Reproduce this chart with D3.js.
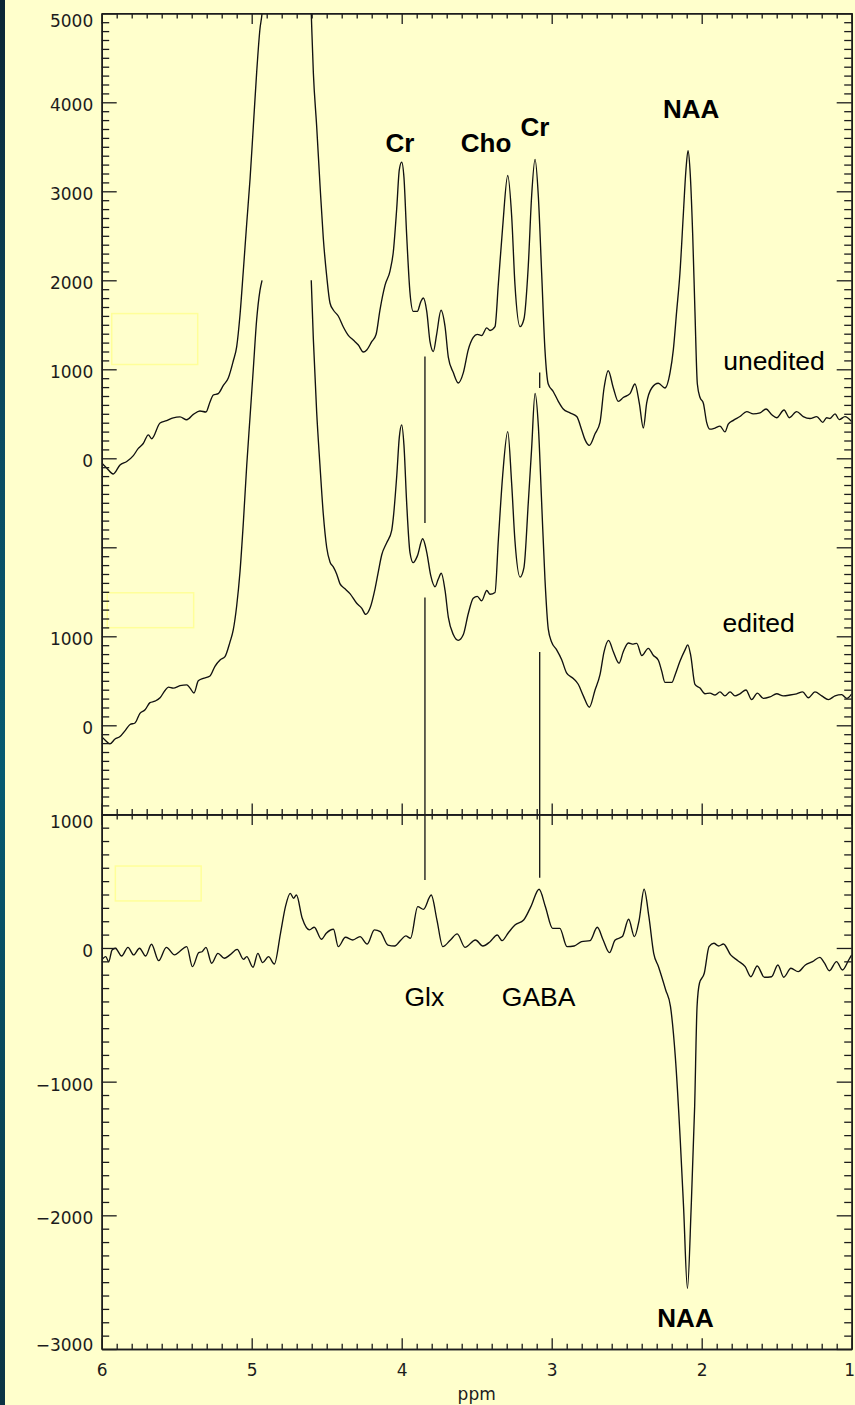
<!DOCTYPE html>
<html>
<head>
<meta charset="utf-8">
<script src="https://cdn.jsdelivr.net/npm/d3@7"></script>
<style>
  html, body { margin: 0; padding: 0; background: #ffffcc; }
  svg { display: block; }
</style>
</head>
<body>
<svg id="chart" width="855" height="1405"></svg>
<script>
// ---- Spectra (chemical shift in ppm, signal in arbitrary units) ----

// Unedited spectrum (water peak runs off the top of the panel)
const uneditedPpm = [
  6.000,5.967,5.923,5.878,5.833,5.789,5.756,5.723,5.689,5.667,
  5.611,5.567,5.523,5.478,5.433,5.389,5.345,5.305,5.278,5.256,
  5.223,5.189,5.156,5.123,5.100,5.078,5.056,5.033,5.011,4.989,
  4.967,4.945,4.931,4.900,4.800,4.700,4.620,
  4.603,4.589,4.567,4.545,4.523,4.500,4.478,4.456,4.423,4.389,
  4.356,4.323,4.289,4.256,4.233,4.200,4.171,4.145,4.111,4.078,
  4.056,4.033,4.016,4.000,3.985,3.967,3.945,3.923,3.896,3.873,
  3.856,3.833,3.811,3.789,3.767,3.738,3.711,3.689,3.656,3.623,
  3.589,3.556,3.523,3.496,3.467,3.433,3.411,3.378,3.356,3.327,
  3.293,3.267,3.245,3.211,3.185,3.156,3.134,3.111,3.089,3.067,
  3.045,3.023,2.989,2.956,2.923,2.878,2.833,2.800,2.778,2.749,
  2.711,2.678,2.651,2.623,2.589,2.556,2.523,2.478,2.445,2.416,
  2.389,2.367,2.333,2.289,2.245,2.211,2.189,2.167,2.145,2.123,
  2.105,2.091,2.078,2.060,2.045,2.029,2.011,1.989,1.967,1.945,
  1.911,1.878,1.845,1.823,1.789,1.745,1.700,1.656,1.611,1.571,
  1.533,1.500,1.451,1.416,1.367,1.323,1.278,1.233,1.193,1.167,
  1.145,1.111,1.083,1.045,1.000
];
const uneditedSignal = [
  -53,-109,-176,-75,-36,30,111,166,264,220,
  397,422,455,465,433,493,531,520,633,711,
  727,819,902,1093,1255,1610,2104,2644,3138,3734,
  4333,4824,5000,6000,12000,12000,5800,
  5000,4333,3734,3082,2481,2048,1745,1666,1599,1475,
  1381,1329,1273,1194,1217,1310,1391,1666,1945,2104,
  2318,2812,3240,3328,3156,2511,1866,1651,1651,1758,
  1801,1651,1307,1200,1393,1664,1479,1135,963,846,
  963,1221,1358,1393,1380,1466,1436,1479,1952,2597,
  3178,2726,1952,1479,1565,2167,2942,3358,2942,2082,
  1221,835,748,640,554,511,469,318,210,146,
  275,404,790,984,790,640,683,727,835,619,
  340,619,790,843,790,963,1221,1651,2082,2726,
  3242,3457,3242,2511,1651,835,683,619,404,327,
  340,361,297,383,426,469,525,499,511,554,
  490,456,543,456,525,469,447,469,404,456,
  447,499,434,469,412
];

// Edited spectrum (water region blanked), drawn below the unedited one
const editedPpm = [
  6.000,5.978,5.945,5.911,5.878,5.845,5.811,5.778,5.745,5.711,
  5.678,5.645,5.611,5.578,5.555,5.523,5.478,5.433,5.411,5.385,
  5.356,5.323,5.278,5.245,5.211,5.178,5.145,5.123,5.100,5.078,
  5.056,5.033,5.011,4.989,4.967,4.945,4.931,
  4.770,
  4.603,4.589,4.567,4.545,4.523,4.500,4.478,4.456,4.433,4.411,
  4.378,4.345,4.300,4.267,4.240,4.211,4.178,4.156,4.133,4.100,
  4.067,4.056,4.033,4.016,4.000,3.985,3.967,3.945,3.923,3.896,
  3.860,3.833,3.807,3.778,3.756,3.736,3.711,3.689,3.656,3.623,
  3.589,3.556,3.523,3.496,3.467,3.433,3.411,3.378,3.356,3.327,
  3.293,3.267,3.245,3.211,3.185,3.156,3.134,3.111,3.089,3.067,
  3.045,3.023,3.000,2.967,2.934,2.901,2.856,2.823,2.789,2.749,
  2.711,2.678,2.651,2.621,2.589,2.551,2.523,2.489,2.456,2.433,
  2.399,2.356,2.323,2.289,2.267,2.245,2.199,2.177,2.145,2.111,
  2.093,2.073,2.045,2.011,1.978,1.945,1.911,1.878,1.845,1.811,
  1.778,1.745,1.705,1.667,1.629,1.589,1.545,1.500,1.456,1.411,
  1.367,1.327,1.289,1.245,1.200,1.156,1.111,1.067,1.033,1.000
];
const editedSignal = [
  -127,-165,-208,-154,-127,-62,9,26,135,174,
  254,271,309,391,429,418,445,455,418,363,
  500,527,554,663,734,772,935,1071,1343,1725,
  2270,2924,3467,4012,4556,4884,5000,
  null,
  5000,4339,3522,2924,2379,1998,1834,1780,1698,1589,
  1534,1480,1371,1317,1246,1317,1534,1725,1916,2051,
  2188,2331,2804,3235,3376,3148,2503,1944,1828,1901,
  2096,1944,1687,1557,1644,1708,1515,1213,1020,955,
  1020,1256,1428,1449,1399,1515,1472,1493,2073,2804,
  3299,2718,2073,1665,1772,2503,3106,3729,3363,2503,
  1644,1084,934,848,740,590,526,461,331,203,
  397,569,826,955,826,698,826,925,912,921,
  783,865,787,731,611,482,482,569,719,848,
  903,783,461,418,354,362,340,375,331,375,
  331,354,397,289,362,302,319,354,331,340,
  354,375,310,375,331,289,331,345,302,354
];
const editedOffset = -3000;   // vertical shift of the edited trace

// Difference spectrum (edited minus unedited)
const differencePpm = [
  6.000,5.973,5.953,5.931,5.909,5.867,5.825,5.787,5.748,5.707,
  5.668,5.620,5.569,5.514,5.482,5.433,5.395,5.353,5.331,5.305,
  5.267,5.225,5.183,5.145,5.097,5.055,5.033,4.991,4.959,4.927,
  4.888,4.849,4.808,4.775,4.743,4.721,4.702,4.663,4.615,4.583,
  4.535,4.503,4.455,4.423,4.375,4.326,4.278,4.230,4.182,4.143,
  4.092,4.047,4.005,3.973,3.941,3.893,3.855,3.803,3.765,3.726,
  3.675,3.630,3.578,3.508,3.459,3.411,3.363,3.331,3.289,3.245,
  3.187,3.139,3.084,3.042,2.994,2.946,2.898,2.850,2.801,2.744,
  2.696,2.657,2.615,2.577,2.529,2.487,2.449,2.417,2.384,2.352,
  2.320,2.288,2.240,2.208,2.176,2.143,2.121,2.095,2.070,2.047,
  2.031,2.015,1.983,1.951,1.919,1.887,1.855,1.807,1.759,1.710,
  1.672,1.630,1.582,1.534,1.492,1.453,1.405,1.357,1.309,1.261,
  1.213,1.181,1.149,1.101,1.062,1.020,1.000
];
const differenceSignal = [
  -90,-65,-102,-15,-2,-60,5,-52,-2,-60,
  28,-95,5,-52,-28,10,-140,-35,-28,5,
  -114,-40,-77,-52,-10,-85,-65,-144,-40,-110,
  -65,-120,110,309,409,372,396,222,135,155,
  65,110,140,10,80,60,85,30,135,122,
  22,15,60,90,73,309,289,396,209,10,
  60,105,5,60,15,47,97,55,114,172,
  209,309,439,309,147,147,10,15,47,55,
  155,60,-35,60,85,215,85,209,439,234,
  -40,-140,-314,-439,-813,-1436,-1935,-2546,-1935,-1187,
  -439,-264,-189,10,35,15,30,-52,-95,-140,
  -215,-135,-219,-215,-127,-219,-152,-177,-127,-102,
  -70,-114,-170,-102,-165,-90,-52
];

// ---- Axis ticks and labels ----
const ppmTicks = [6, 5, 4, 3, 2, 1];
const topMajorTicks = [5000, 4000, 3000, 2000, 1000, 0, -1000, -2000, -3000, -4000];
const topTickLabels = { "5000": "5000", "4000": "4000", "3000": "3000", "2000": "2000",
                        "1000": "1000", "0": "0", "-2000": "1000", "-3000": "0" };
const bottomMajorTicks = [1000, 0, -1000, -2000, -3000];
const bottomTickLabels = { "1000": "1000", "0": "0", "-1000": "\u22121000",
                           "-2000": "\u22122000", "-3000": "\u22123000" };

// ---- Annotations: label, position (ppm, signal), panel ----
const peakLabels = [
  { text: "Cr",   ppm: 4.011, v: 3436, bold: true,  panel: "top" },
  { text: "Cho",  ppm: 3.438, v: 3436, bold: true,  panel: "top" },
  { text: "Cr",   ppm: 3.111, v: 3621, bold: true,  panel: "top" },
  { text: "NAA",  ppm: 2.071, v: 3824, bold: true,  panel: "top" },
  { text: "unedited", ppm: 1.518, v: 992,  bold: false, panel: "top" },
  { text: "edited",   ppm: 1.620, v: -1948, bold: false, panel: "top" },
  { text: "Glx",  ppm: 3.849, v: -432,  bold: false, panel: "bottom" },
  { text: "GABA", ppm: 3.087, v: -432,  bold: false, panel: "bottom" },
  { text: "NAA",  ppm: 2.108, v: -2835, bold: true,  panel: "bottom" }
];
// marker lines: [ppm, from (panel, value), to (panel, value)]
const markerLines = [
  { ppm: 3.845, from: ["top", 1144],  to: ["top", -727] },
  { ppm: 3.845, from: ["top", -1565], to: ["bottom", 509] },
  { ppm: 3.080, from: ["top", 963],   to: ["top", 790] },
  { ppm: 3.080, from: ["top", -2175], to: ["bottom", 526] }
];
// empty legend frames
const legendFrames = [
  { panel: "top",    ppm0: 5.933, ppm1: 5.360, v0: 1626,  v1: 1054 },
  { panel: "top",    ppm0: 5.963, ppm1: 5.387, v0: -1511, v1: -1903 },
  { panel: "bottom", ppm0: 5.909, ppm1: 5.337, v0: 613,   v1: 352 }
];

// ---- Layout ----
const W = 855, H = 1405;
const plotL = 101.7, plotR = 851.7, topT = 13.3, midY = 814.3, botB = 1349;
const ink = "#1c1c1c";

const svg = d3.select("#chart");
const defs = svg.append("defs");

svg.append("rect").attr("width", W).attr("height", H).attr("fill", "#ffffcc");

// dark edge strip on the left
const edge = defs.append("linearGradient").attr("id", "edgeGrad")
  .attr("x1", 0).attr("y1", 0).attr("x2", 0).attr("y2", 1);
[["0", "#0b2535"], ["0.3", "#0a4a60"], ["0.55", "#065a70"], ["1", "#0b3343"]]
  .forEach(([o, c]) => edge.append("stop").attr("offset", o).attr("stop-color", c));
svg.append("rect").attr("x", 0).attr("y", 0).attr("width", 5).attr("height", H)
  .attr("fill", "url(#edgeGrad)");

const x = d3.scaleLinear().domain([6, 1]).range([plotL, plotR]);
const yTop = d3.scaleLinear().domain([-4000, 5000]).range([midY, topT]);
const yBot = d3.scaleLinear().domain([-3000, 1000]).range([botB, midY]);
const yOf = p => (p === "top" ? yTop : yBot);

defs.append("clipPath").attr("id", "clipTop").append("rect")
  .attr("x", plotL).attr("y", topT).attr("width", plotR - plotL).attr("height", midY - topT);
defs.append("clipPath").attr("id", "clipBot").append("rect")
  .attr("x", plotL).attr("y", midY).attr("width", plotR - plotL).attr("height", botB - midY);

// legend frames
svg.append("g").selectAll("rect").data(legendFrames).join("rect")
  .attr("x", d => x(d.ppm0)).attr("y", d => yOf(d.panel)(d.v0))
  .attr("width", d => x(d.ppm1) - x(d.ppm0))
  .attr("height", d => yOf(d.panel)(d.v1) - yOf(d.panel)(d.v0))
  .attr("fill", "none").attr("stroke", "#ffff99").attr("stroke-width", 1.5);

// ---- Traces ----
const toPoints = (ppm, sig, off = 0) =>
  ppm.map((p, i) => ({ ppm: p, v: sig[i] == null ? null : sig[i] + off }));

const lineFor = y => d3.line()
  .defined(d => d.v != null)
  .x(d => x(d.ppm)).y(d => y(d.v))
  .curve(d3.curveMonotoneX);

const traces = svg.append("g").attr("fill", "none").attr("stroke", "#111")
  .attr("stroke-width", 1.35).attr("stroke-linejoin", "round");

traces.append("path").attr("clip-path", "url(#clipTop)")
  .attr("d", lineFor(yTop)(toPoints(uneditedPpm, uneditedSignal)));
traces.append("path").attr("clip-path", "url(#clipTop)")
  .attr("d", lineFor(yTop)(toPoints(editedPpm, editedSignal, editedOffset)));
traces.append("path").attr("clip-path", "url(#clipBot)")
  .attr("d", lineFor(yBot)(toPoints(differencePpm, differenceSignal)));

// marker lines
svg.append("g").selectAll("line").data(markerLines).join("line")
  .attr("x1", d => x(d.ppm)).attr("x2", d => x(d.ppm))
  .attr("y1", d => yOf(d.from[0])(d.from[1]))
  .attr("y2", d => yOf(d.to[0])(d.to[1]))
  .attr("stroke", "#111").attr("stroke-width", 1.3);

// ---- Axes ----
const minorY = (lo, hi) =>
  d3.range(lo, hi + 1, 100).filter(v => v % 1000 !== 0);
const minorX = d3.range(10, 61).map(i => i / 10).filter(v => !Number.isInteger(v));

function styleAxis(g) {
  g.select(".domain").attr("stroke", ink).attr("stroke-width", 1.5);
  g.selectAll(".tick line").attr("stroke", ink).attr("stroke-width", 1.3);
  g.selectAll("text").attr("fill", ink)
    .attr("font-family", "'DejaVu Sans', sans-serif").attr("font-size", 17);
}

function drawYAxes(y, major, lo, hi, labels, labelShift) {
  const left = svg.append("g").attr("transform", `translate(${plotL},0)`)
    .call(d3.axisLeft(y).tickValues(major).tickSize(-15).tickSizeOuter(0).tickPadding(8.5)
      .tickFormat(v => labels[String(v)] || ""));
  left.call(styleAxis);
  left.selectAll(".tick text").attr("dy", v => (labelShift[String(v)] ?? 3) + 5.4);
  svg.append("g").attr("transform", `translate(${plotL},0)`)
    .call(d3.axisLeft(y).tickValues(minorY(lo, hi)).tickSize(-7.5).tickSizeOuter(0).tickFormat(""))
    .call(styleAxis);
  svg.append("g").attr("transform", `translate(${plotR},0)`)
    .call(d3.axisRight(y).tickValues(major).tickSize(-15).tickSizeOuter(0).tickFormat(""))
    .call(styleAxis);
  svg.append("g").attr("transform", `translate(${plotR},0)`)
    .call(d3.axisRight(y).tickValues(minorY(lo, hi)).tickSize(-7.5).tickSizeOuter(0).tickFormat(""))
    .call(styleAxis);
}

function drawXAxis(ypos, orient, withLabels) {
  const major = (orient === "top" ? d3.axisTop(x) : d3.axisBottom(x))
    .tickValues(ppmTicks).tickSize(-10.7).tickSizeOuter(0).tickPadding(15)
    .tickFormat(withLabels ? d3.format("d") : "");
  const minor = (orient === "top" ? d3.axisTop(x) : d3.axisBottom(x))
    .tickValues(minorX).tickSize(-5.3).tickSizeOuter(0).tickFormat("");
  const g = svg.append("g").attr("transform", `translate(0,${ypos})`).call(major).call(styleAxis);
  svg.append("g").attr("transform", `translate(0,${ypos})`).call(minor).call(styleAxis);
  // keep the last label inside the page
  g.selectAll(".tick text").filter(v => v === 1).attr("text-anchor", "end").attr("x", 2.8);
}

// upper panel: unedited + edited
drawYAxes(yTop, topMajorTicks, -4000, 5000, topTickLabels, { "5000": 8 });
drawXAxis(topT, "top", false);
drawXAxis(midY, "bottom", false);

// lower panel: difference
drawYAxes(yBot, bottomMajorTicks, -3000, 1000, bottomTickLabels, { "1000": 8, "-3000": -4 });
drawXAxis(midY, "top", false);
drawXAxis(botB, "bottom", true);

svg.append("text").attr("x", (plotL + plotR) / 2).attr("y", 1400)
  .attr("text-anchor", "middle").attr("fill", ink)
  .attr("font-family", "'DejaVu Sans', sans-serif").attr("font-size", 17)
  .text("ppm");

// ---- Peak labels ----
svg.append("g").selectAll("text").data(peakLabels).join("text")
  .attr("x", d => x(d.ppm)).attr("y", d => yOf(d.panel)(d.v))
  .attr("text-anchor", "middle").attr("fill", "#000")
  .attr("font-family", "'Liberation Sans', Arial, sans-serif")
  .attr("font-weight", d => d.bold ? "bold" : "normal")
  .attr("font-size", d => d.bold ? 26 : 26.5)
  .text(d => d.text);
</script>
</body>
</html>
